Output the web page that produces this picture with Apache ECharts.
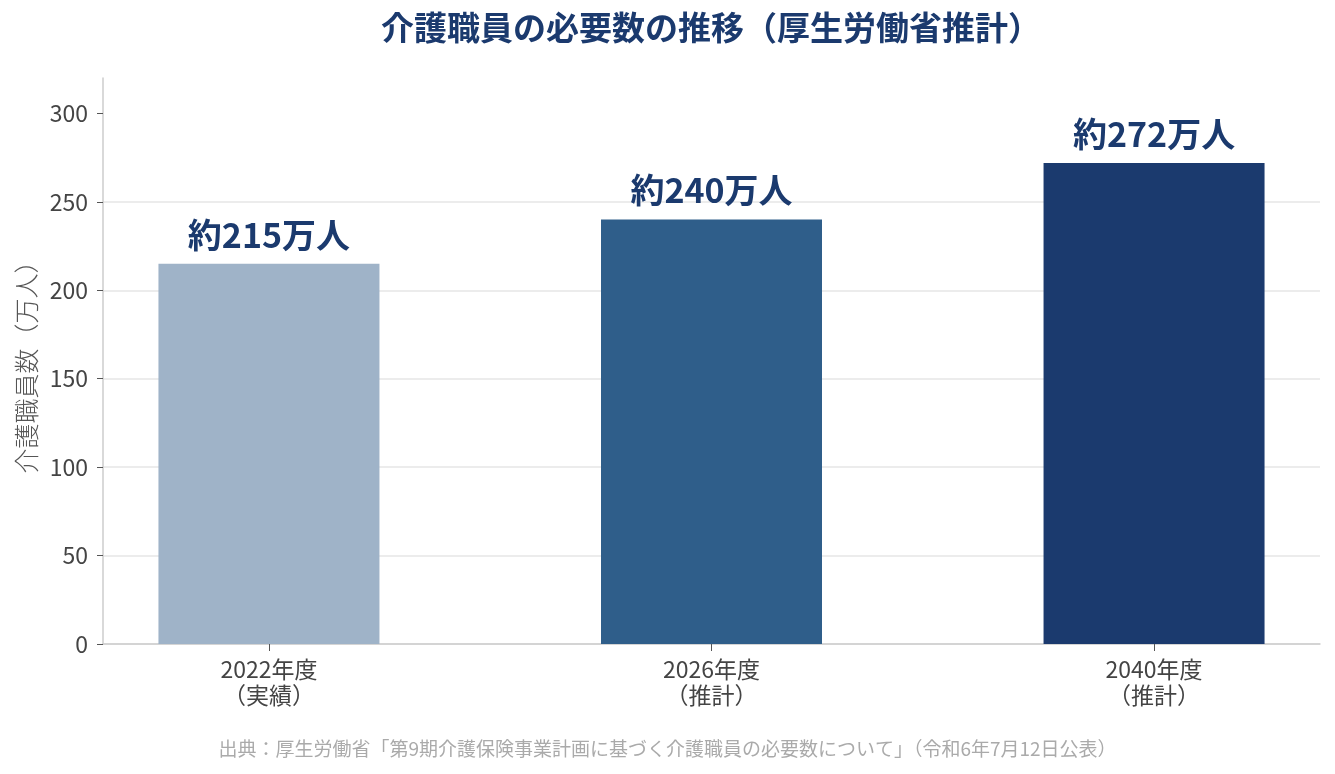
<!DOCTYPE html>
<html>
<head>
<meta charset="utf-8">
<script src="https://cdn.jsdelivr.net/npm/echarts@6/dist/echarts.min.js"></script>
<style>
  html, body { margin: 0; padding: 0; background: #fff; }
  #chart { width: 1335px; height: 774px; }
</style>
</head>
<body>
<div id="chart"></div>
<script>
// data
const categories = ['2022年度\n（実績）', '2026年度\n（推計）', '2040年度\n（推計）']
const values = [215, 240, 272]
const valueLabels = ['約215万人', '約240万人', '約272万人']
const yTicks = [0, 50, 100, 150, 200, 250, 300]
const barColors = ['#9fb3c8', '#2f5e8a', '#1b3a6e']

const font = '"Noto Sans CJK JP", "Noto Sans", sans-serif'

const chart = echarts.init(document.getElementById('chart'))

const option = {
    textStyle: { fontFamily: font },
    title: [
        {
            text: '介護職員の必要数の推移（厚生労働省推計）',
            left: 376,
            top: 6,
            textStyle: { fontSize: 33, fontWeight: 'bold', color: '#1b3a6e', fontFamily: font }
        },
        {
            text: '出典：厚生労働省「第9期介護保険事業計画に基づく介護職員の必要数について」（令和6年7月12日公表）',
            left: 'center',
            top: 734,
            textStyle: { fontSize: 19, fontWeight: 'normal', color: '#aaaaaa', fontFamily: font }
        }
    ],
    grid: { left: 103, right: 15, top: 78, bottom: 130 },
    xAxis: {
        type: 'value',
        min: -0.375,
        max: 2.375,
        splitLine: { show: false },
        axisLine: { show: true, onZero: false, lineStyle: { color: '#cccccc', width: 1.5 } },
        axisTick: { show: true, customValues: [0, 1, 2], length: 7, lineStyle: { color: '#555555' } },
        axisLabel: {
            customValues: [0, 1, 2],
            fontSize: 23, color: '#444444', lineHeight: 26, margin: 12, fontFamily: font,
            formatter: v => categories[Math.round(v)] || ''
        }
    },
    yAxis: {
        type: 'value',
        min: 0,
        max: 320,
        interval: 50,
        name: '介護職員数（万人）',
        nameLocation: 'middle',
        nameGap: 64,
        nameTextStyle: { fontSize: 25, fontWeight: 300, color: '#555555', fontFamily: font },
        axisLine: { show: true, onZero: false, lineStyle: { color: '#cccccc', width: 1.5 } },
        axisTick: { show: true, customValues: yTicks, length: 6, lineStyle: { color: '#555555' } },
        axisLabel: { customValues: yTicks, fontSize: 23, color: '#444444', margin: 15, fontFamily: font },
        splitLine: { showMaxLine: false, lineStyle: { color: '#e6e6e6', width: 1.5 } }
    },
    series: [{
        type: 'bar',
        barWidth: 221,
        data: values.map((v, i) => ({ value: [i, v], itemStyle: { color: barColors[i] } })),
        label: {
            show: true,
            position: 'top',
            distance: 12,
            fontSize: 34,
            fontWeight: 'bold',
            color: '#1b3a6e',
            fontFamily: font,
            formatter: p => valueLabels[p.dataIndex]
        }
    }]
}

chart.setOption(option)
</script>
</body>
</html>
